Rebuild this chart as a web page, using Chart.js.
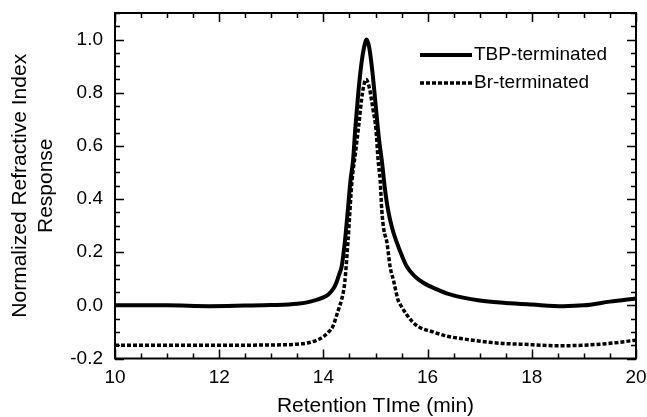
<!DOCTYPE html>
<html>
<head>
<meta charset="UTF-8">
<script src="https://cdn.jsdelivr.net/npm/chart.js@4.4.1/dist/chart.umd.min.js"></script>
<style>
  html, body { margin: 0; padding: 0; background: #fff; }
  #wrap { width: 647px; height: 417px; }
</style>
</head>
<body>
<div id="wrap"><canvas id="c"></canvas></div>
<script>
// retention time (min) / normalized RI response
var tbpTime = [10, 11, 11.8, 12.5, 13, 13.5, 13.75, 14, 14.1, 14.2, 14.25, 14.3, 14.35, 14.41, 14.47, 14.52, 14.57, 14.61,
  14.67, 14.73, 14.78, 14.83, 14.88, 14.94, 15, 15.07, 15.12, 15.18, 15.24, 15.32, 15.41, 15.5, 15.6, 15.75, 15.91,
  16.18, 16.43, 17, 17.5, 18, 18.6, 19, 19.5, 20];
var tbpResp = [0, 0, -0.003, -0.001, 0.001, 0.006, 0.014, 0.03, 0.042, 0.065, 0.086, 0.115, 0.146, 0.236, 0.36, 0.47, 0.547, 0.66,
  0.8, 0.91, 0.97, 1.0, 0.97, 0.88, 0.76, 0.62, 0.547, 0.44, 0.36, 0.29, 0.236, 0.19, 0.146, 0.11, 0.086,
  0.06, 0.041, 0.018, 0.009, 0.003, -0.003, 0, 0.014, 0.026];

var brTime = [10, 11, 12, 13, 13.5, 13.75, 14, 14.1, 14.18, 14.25, 14.3, 14.35, 14.41, 14.47, 14.55, 14.62, 14.68, 14.75,
  14.82, 14.88, 14.95, 15.01, 15.05, 15.09, 15.12, 15.16, 15.22, 15.28, 15.35, 15.43, 15.5, 15.6, 15.7, 15.82,
  16.1, 16.4, 16.75, 17.4, 17.77, 18.5, 19, 19.5, 20];
var brResp = [-0.15, -0.15, -0.15, -0.149, -0.146, -0.139, -0.118, -0.1, -0.08, -0.04, -0.01, 0.022, 0.086, 0.236, 0.47, 0.58, 0.68, 0.8,
  0.85, 0.82, 0.74, 0.66, 0.547, 0.47, 0.36, 0.285, 0.236, 0.146, 0.09, 0.022, -0.005, -0.035, -0.06, -0.08,
  -0.1, -0.117, -0.128, -0.143, -0.146, -0.152, -0.15, -0.143, -0.131];

var xTicks = [10, 12, 14, 16, 18, 20];
var yTicks = [-0.2, 0.0, 0.2, 0.4, 0.6, 0.8, 1.0];

function pairs(xs, ys) {
  return xs.map(function (x, i) { return { x: x, y: ys[i] }; });
}

var FONT = '"Liberation Sans", Arial, sans-serif';

// inward ticks on all four sides + box frame + in-plot legend
var frameTicks = {
  id: 'frameTicks',
  afterDatasetsDraw: function (chart) {
    var ctx = chart.ctx, a = chart.chartArea;
    var xs = chart.scales.x, ys = chart.scales.y;
    ctx.save();
    ctx.strokeStyle = '#000';
    ctx.lineWidth = 2;
    ctx.strokeRect(a.left, a.top, a.right - a.left, a.bottom - a.top);

    ctx.lineWidth = 1.5;
    ctx.beginPath();
    for (var v = 10; v <= 20.001; v += 0.5) {
      var px = Math.round(xs.getPixelForValue(v)) + 0.5;
      var len = (Math.abs(v / 2 - Math.round(v / 2)) < 1e-6) ? 9 : 5;
      ctx.moveTo(px, a.bottom); ctx.lineTo(px, a.bottom - len);
      ctx.moveTo(px, a.top); ctx.lineTo(px, a.top + len);
    }
    for (var k = -4; k <= 22; k++) {
      var py = Math.round(ys.getPixelForValue(k * 0.05)) + 0.5;
      var l = (k % 4 === 0) ? 9 : 5;
      ctx.moveTo(a.left, py); ctx.lineTo(a.left + l, py);
      ctx.moveTo(a.right, py); ctx.lineTo(a.right - l, py);
    }
    ctx.stroke();

    // legend
    var lx = a.left + 305, ly = a.top + 42;
    chart.data.datasets.forEach(function (ds, i) {
      var y = ly + i * 28;
      ctx.strokeStyle = ds.borderColor;
      ctx.lineWidth = ds.borderWidth;
      ctx.setLineDash(ds.borderDash || []);
      ctx.beginPath();
      ctx.moveTo(lx, y); ctx.lineTo(lx + 52, y);
      ctx.stroke();
      ctx.setLineDash([]);
      ctx.fillStyle = '#000';
      ctx.font = '19px ' + FONT;
      ctx.textBaseline = 'middle';
      ctx.fillText(ds.label, lx + 54, y);
    });
    ctx.restore();
  }
};

new Chart(document.getElementById('c'), {
  type: 'line',
  data: {
    datasets: [{
      label: 'TBP-terminated',
      data: pairs(tbpTime, tbpResp),
      borderColor: '#000',
      borderWidth: 4,
      pointRadius: 0,
      cubicInterpolationMode: 'monotone'
    }, {
      label: 'Br-terminated',
      data: pairs(brTime, brResp),
      borderColor: '#000',
      borderWidth: 3.5,
      borderDash: [4, 2],
      pointRadius: 0,
      cubicInterpolationMode: 'monotone'
    }]
  },
  options: {
    responsive: true,
    maintainAspectRatio: false,
    animation: false,
    layout: { padding: { top: 13, right: 11, left: 0, bottom: 0 } },
    plugins: { legend: { display: false }, tooltip: { enabled: false } },
    scales: {
      x: {
        type: 'linear',
        min: 10, max: 20,
        afterBuildTicks: function (s) { s.ticks = xTicks.map(function (v) { return { value: v }; }); },
        afterFit: function (s) { s.height = 58.5; s.paddingLeft = 0; s.paddingRight = 0; },
        grid: { display: false },
        border: { display: false },
        ticks: { color: '#000', font: { family: FONT, size: 19 }, padding: 0, maxRotation: 0 },
        title: { display: true, text: 'Retention TIme (min)', color: '#000', font: { family: FONT, size: 21, lineHeight: 1 }, padding: 0 }
      },
      y: {
        min: -0.2, max: 1.1,
        afterBuildTicks: function (s) { s.ticks = yTicks.map(function (v) { return { value: v }; }); },
        afterFit: function (s) { s.width = 115; s.paddingTop = 0; s.paddingBottom = 0; },
        grid: { display: false },
        border: { display: false },
        ticks: {
          color: '#000', font: { family: FONT, size: 19 }, padding: 4,
          callback: function (v) { return Number(v).toFixed(1); }
        },
        title: {
          display: true, text: ['Normalized Refractive Index', 'Response'],
          color: '#000', font: { family: FONT, size: 21, lineHeight: 1.2 }, padding: { top: 8, bottom: 0 }
        }
      }
    }
  },
  plugins: [frameTicks]
});
</script>
</body>
</html>
